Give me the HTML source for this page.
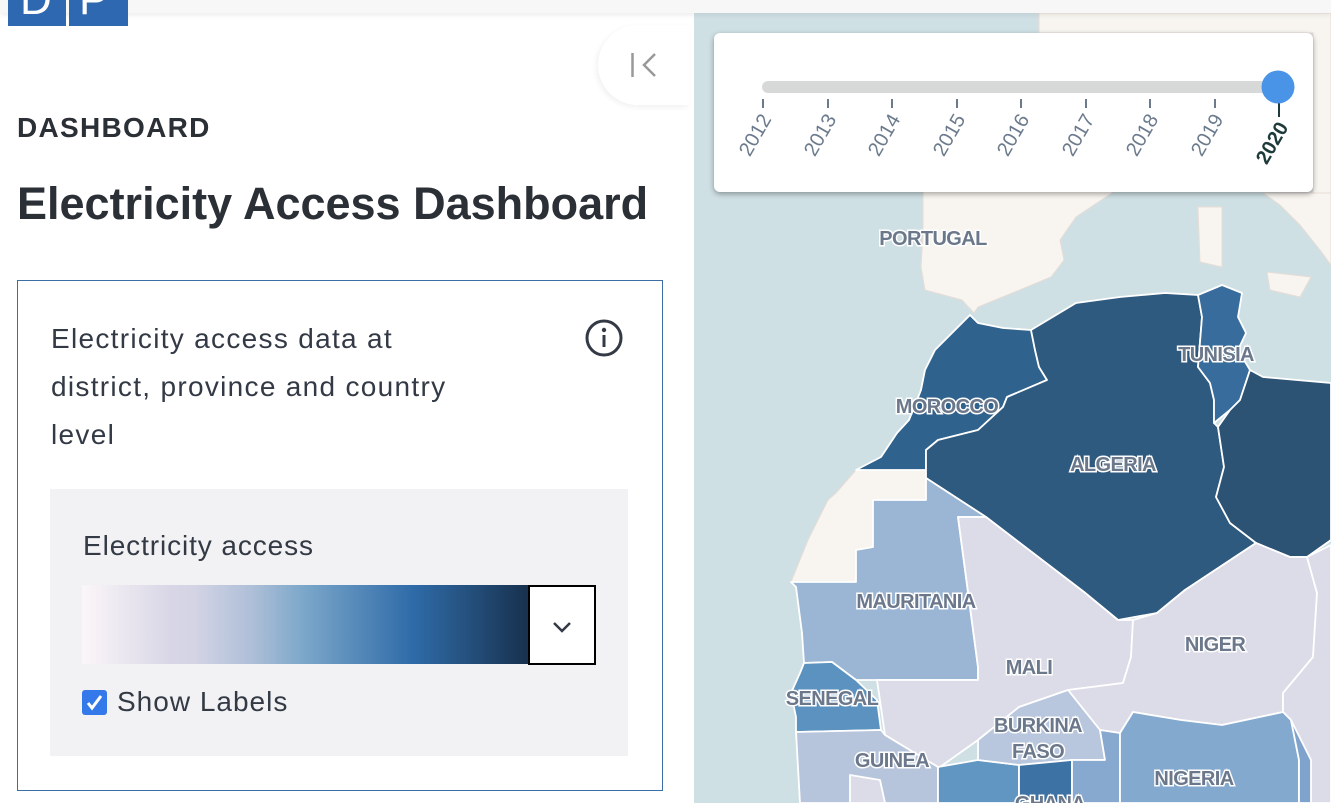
<!DOCTYPE html>
<html><head><meta charset="utf-8"><style>
*{margin:0;padding:0;box-sizing:border-box}
body{width:1331px;height:803px;overflow:hidden;position:relative;background:#fff;font-family:"Liberation Sans",sans-serif;color:#2e3440}
.abs{position:absolute}
</style></head><body>
<svg class="abs" style="left:694px;top:0" width="637" height="803" viewBox="694 0 637 803">
<rect x="694" y="0" width="637" height="803" fill="#cfe0e4"/>
<g fill="#f8f5f0" stroke="#e7dcd6" stroke-width="1">
<polygon points="1039,13 1331,13 1331,200 1313,200 1313,33 1039,33"/>
<polygon points="923,150 1112,150 1112,193 1076,217 1060,240 1064,260 1051,277 1027,287 978,307 974,313 962,300 925,290 921,267 923,233"/>
<polygon points="1263,193 1331,193 1331,265 1320,250 1300,225 1280,205"/>
<polygon points="1198,207 1222,207 1222,267 1200,262"/>
<polygon points="1267,272 1311,277 1300,297 1270,290"/>
<polygon points="856,470 926,470 926,500 873,500 873,547 856,550 856,582 791,582 808,540 828,500 836,493"/>
</g>
<g stroke="#fff" stroke-width="1.8" stroke-linejoin="round">
<polygon fill="#30628e" points="970,315 978,323 1003,328 1031,330 1035,350 1039,367 1047,380 1007,397 1003,407 978,430 938,440 926,450 926,470 856,470 881,457 897,433 909,420 921,390 925,370 935,350 950,335 960,325"/>
<polygon fill="#2f5a80" points="1031,330 1076,303 1120,297 1165,293 1198,295 1202,317 1198,367 1210,383 1214,400 1214,423 1218,427 1224,467 1216,497 1230,523 1256,543 1185,590 1157,613 1118,620 1084,592 986,517 926,478 926,450 938,440 978,430 1003,407 1007,397 1047,380 1039,367 1035,350"/>
<polygon fill="#386c9c" points="1198,295 1222,285 1242,293 1238,317 1246,333 1238,350 1250,370 1240,400 1230,410 1214,423 1214,400 1210,383 1198,367 1202,317"/>
<polygon fill="#2c5274" points="1250,370 1263,377 1331,383 1331,540 1307,557 1290,557 1256,543 1230,523 1216,497 1224,467 1218,427 1230,410 1240,400"/>
<polygon fill="#9bb6d4" points="926,478 986,517 958,517 978,667 978,680 877,680 856,680 832,662 804,663 802,633 796,587 791,582 856,582 856,550 873,547 873,500 926,500"/>
<polygon fill="#dcdbe8" points="958,517 986,517 1084,592 1118,620 1133,620 1131,657 1123,683 1068,690 1019,707 978,740 940,767 938,767 885,735 877,680 978,680 978,667"/>
<polygon fill="#dcdbe8" points="1157,613 1185,590 1256,543 1290,557 1307,557 1317,593 1313,657 1283,693 1283,712 1222,725 1181,720 1133,712 1120,733 1100,730 1068,690 1123,683 1131,657 1133,620"/>
<polygon fill="#dcdbe8" points="1307,557 1331,545 1331,803 1311,803 1299,760 1291,720 1283,712 1283,693 1313,657 1317,593"/>
<polygon fill="#5b92bf" points="804,663 832,662 856,680 877,700 881,730 796,732 796,717 791,693 800,673"/>
<polygon fill="#b7c5dc" points="796,732 881,730 885,735 938,767 938,803 800,803"/>
<polygon fill="#dcdbe8" points="850,775 880,780 885,803 850,803"/>
<polygon fill="#6196c3" points="938,767 978,760 1019,765 1019,803 938,803"/>
<polygon fill="#b8c7de" points="978,740 1019,707 1068,690 1100,730 1105,760 1072,760 1019,765 978,760"/>
<polygon fill="#3d72a4" points="1019,765 1072,760 1072,803 1019,803"/>
<polygon fill="#87a9cf" points="1072,760 1105,760 1100,730 1120,733 1120,803 1072,803"/>
<polygon fill="#84a9cf" points="1120,733 1133,712 1181,720 1222,725 1283,712 1291,720 1299,760 1299,803 1120,803"/>
<polygon fill="#7fa3cc" points="1291,720 1311,760 1311,803 1299,803 1299,760"/>
</g>
<g font-family="Liberation Sans,sans-serif" font-weight="bold" font-size="20" fill="#6b778a" stroke="#fff" stroke-width="3" paint-order="stroke" text-anchor="middle" letter-spacing="-0.6">
<text x="933" y="245">PORTUGAL</text><text x="947" y="413">MOROCCO</text><text x="1216" y="361">TUNISIA</text>
<text x="1113" y="471">ALGERIA</text><text x="916" y="608">MAURITANIA</text><text x="1215" y="651">NIGER</text>
<text x="1029" y="674">MALI</text><text x="832" y="705">SENEGAL</text><text x="1038" y="732">BURKINA</text>
<text x="1038" y="758">FASO</text><text x="892" y="767">GUINEA</text><text x="1194" y="785">NIGERIA</text><text x="1050" y="810">GHANA</text>
</g>
<rect x="714" y="33" width="599" height="159" rx="6" fill="#fff" style="filter:drop-shadow(0 2px 3px rgba(0,0,0,.35))"/>
<rect x="762" y="81" width="517" height="12" rx="6" fill="#d7d9d9"/>
<g stroke="#6b7a8c" stroke-width="2">
<line x1="763" y1="99" x2="763" y2="108"/><line x1="828" y1="99" x2="828" y2="108"/><line x1="892" y1="99" x2="892" y2="108"/><line x1="957" y1="99" x2="957" y2="108"/><line x1="1021" y1="99" x2="1021" y2="108"/><line x1="1086" y1="99" x2="1086" y2="108"/><line x1="1150" y1="99" x2="1150" y2="108"/><line x1="1215" y1="99" x2="1215" y2="108"/>
<line x1="1279" y1="100" x2="1279" y2="117" stroke="#1e3a3a"/></g>
<circle cx="1278" cy="87" r="16.5" fill="#4a94e8"/>
<g font-family="Liberation Sans,sans-serif" font-size="20" fill="#6b7a8c" text-anchor="end">
<text transform="translate(772,119) rotate(-60)">2012</text><text transform="translate(837,119) rotate(-60)">2013</text><text transform="translate(901,119) rotate(-60)">2014</text><text transform="translate(966,119) rotate(-60)">2015</text><text transform="translate(1030,119) rotate(-60)">2016</text><text transform="translate(1095,119) rotate(-60)">2017</text><text transform="translate(1159,119) rotate(-60)">2018</text><text transform="translate(1224,119) rotate(-60)">2019</text>
<text transform="translate(1289,127) rotate(-60)" font-weight="bold" fill="#1e3a3a">2020</text></g>
</svg>
<div class="abs" style="left:0;top:0;width:694px;height:803px;background:#fff"></div>
<div class="abs" style="left:0;top:0;width:1331px;height:13px;background:#f7f7f7;box-shadow:0 2px 6px rgba(0,0,0,.08)"></div>
<div class="abs" style="left:8px;top:0;width:58px;height:26px;background:#2d68b0;overflow:hidden"><div style="color:#fff;font-size:44px;line-height:44px;margin-top:-22px;margin-left:12px">D</div></div>
<div class="abs" style="left:69px;top:0;width:59px;height:26px;background:#2d68b0;overflow:hidden"><div style="color:#fff;font-size:44px;line-height:44px;margin-top:-22px;margin-left:10px">P</div></div>
<div class="abs" style="left:598px;top:25px;width:92px;height:80px;background:#fff;border-radius:40px 0 0 40px;box-shadow:-2px 2px 6px rgba(0,0,0,.06)">
<svg width="92" height="80"><line x1="34.5" y1="28" x2="34.5" y2="52" stroke="#999" stroke-width="2.5"/><polyline points="57,29 46,40 57,51" fill="none" stroke="#999" stroke-width="2.5"/></svg></div>
<div class="abs" style="left:17px;top:112px;font-size:28px;font-weight:bold;color:#2b2f36;letter-spacing:1.3px">DASHBOARD</div>
<div class="abs" style="left:17px;top:178px;font-size:45px;font-weight:bold;color:#2b2f36;letter-spacing:0px;white-space:nowrap">Electricity Access Dashboard</div>
<div class="abs" style="left:17px;top:280px;width:646px;height:511px;border:1.5px solid #3a6ea5"></div>
<div class="abs" style="left:51px;top:315px;font-size:28px;line-height:48px;color:#333a45;white-space:nowrap;letter-spacing:1.3px">Electricity access data at<br>district, province and country<br>level</div>
<svg class="abs" style="left:584px;top:318px" width="40" height="40"><circle cx="20" cy="20" r="17" fill="none" stroke="#333a45" stroke-width="3"/><circle cx="20" cy="12" r="2.2" fill="#333a45"/><line x1="20" y1="17" x2="20" y2="29" stroke="#333a45" stroke-width="3"/></svg>
<div class="abs" style="left:50px;top:489px;width:578px;height:267px;background:#f2f2f4"></div>
<div class="abs" style="left:83px;top:530px;font-size:28px;color:#333a45;letter-spacing:0.9px">Electricity access</div>
<div class="abs" style="left:82px;top:585px;width:447px;height:79px;background:linear-gradient(90deg,#fbf6f9 0%,#d8d6e6 20%,#d4d4e5 25%,#aebfd8 38%,#7aa6c9 50%,#2f6ba8 74%,#244f7b 87%,#17304d 100%)"></div>
<div class="abs" style="left:528px;top:585px;width:68px;height:80px;background:#fff;border:2px solid #000"><svg width="64" height="76"><polyline points="24,36 32,44 40,36" fill="none" stroke="#333a45" stroke-width="2.5"/></svg></div>
<div class="abs" style="left:82px;top:690px;width:25px;height:25px;background:#3479ea;border-radius:3px"><svg width="25" height="25"><polyline points="6,13 10,18 19,6" fill="none" stroke="#fff" stroke-width="3"/></svg></div>
<div class="abs" style="left:117px;top:686px;font-size:28px;color:#333a45;letter-spacing:1px">Show Labels</div>
</body></html>
